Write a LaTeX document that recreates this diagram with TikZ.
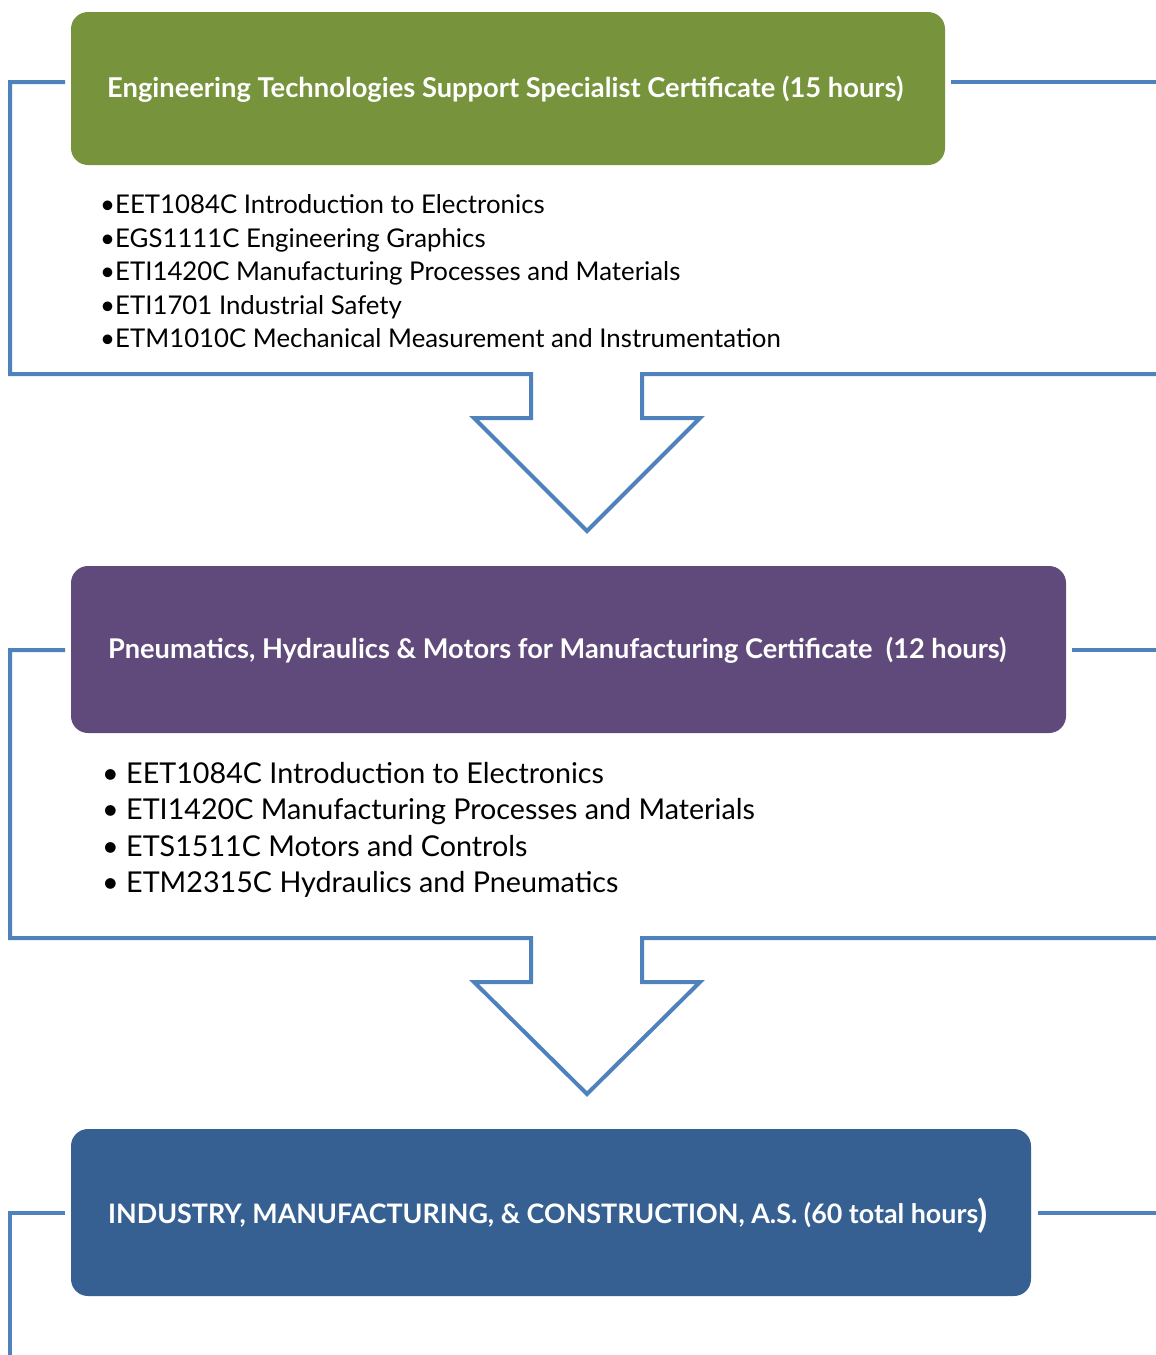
\documentclass[tikz,border=0pt]{standalone}
\usepackage{fontspec}
\setmainfont{Lato}
\definecolor{grn}{HTML}{77933C}
\definecolor{pur}{HTML}{604A7B}
\definecolor{blu}{HTML}{376092}
\definecolor{lnc}{HTML}{4F81BD}
\newcommand\fitw[2]{\resizebox{#1}{!}{#2}}
\begin{document}
\begin{tikzpicture}[x=1pt,y=-1pt,
  box/.style={rounded corners=17pt, draw=none, anchor=north west, inner sep=0, outer sep=0},
  ttl/.style={anchor=base west, text=white, font=\bfseries, inner sep=0},
  itemA/.style={anchor=base west, inner sep=0, font=\fontsize{25.8}{30}\selectfont},
  itemB/.style={anchor=base west, inner sep=0, font=\fontsize{28.7}{33}\selectfont},
  brk/.style={draw=lnc, line width=4pt, line join=miter}]
\useasboundingbox (0,0) rectangle (1156,1355);

% boxes
\node[box, fill=grn, minimum width=874pt, minimum height=153pt] (g1) at (71,12) {};
\node[box, fill=pur, minimum width=995pt, minimum height=167pt] (p2) at (71,566) {};
\node[box, fill=blu, minimum width=960pt, minimum height=167pt] (b3) at (71,1129) {};

% titles
\node[ttl] (t1) at (107,97) {\fitw{796pt}{Engineering Technologies Support Specialist Certificate (15 hours)}};
\node[ttl] (t2) at (108,658) {\fitw{898pt}{Pneumatics, Hydraulics \& Motors for Manufacturing Certificate\ \ (12 hours)}};
\node[ttl] (t3) at (108,1223) {\fitw{880pt}{INDUSTRY, MANUFACTURING, \& CONSTRUCTION, A.S. (60 total hours{\fontsize{14}{14}\selectfont\raisebox{-0.12em}{)}}}};

% list 1
\node[itemA] (a1) at (100,213) {•EET1084C Introduction to Electronics};
\node[itemA] (a2) at (100,247) {•EGS1111C Engineering Graphics};
\node[itemA] (a3) at (100,280) {•ETI1420C Manufacturing Processes and Materials};
\node[itemA] (a4) at (100,314) {•ETI1701 Industrial Safety};
\node[itemA] (a5) at (100,347) {•ETM1010C Mechanical Measurement and Instrumentation};

% list 2
\node[itemB] (b1) at (102,783) {•\ EET1084C Introduction to Electronics};
\node[itemB] (b2) at (102,819.5) {•\ ETI1420C Manufacturing Processes and Materials};
\node[itemB] (b4) at (102,856) {•\ ETS1511C Motors and Controls};
\node[itemB] (b5) at (102,892.5) {•\ ETM2315C Hydraulics and Pneumatics};

% bracket coordinates
\coordinate (L1) at (65,82);   \coordinate (R1) at (951,82);
\coordinate (L2) at (65,650);  \coordinate (R2) at (1072,650);
\coordinate (L3) at (65,1213); \coordinate (R3) at (1038,1213);
\coordinate (E1) at (1156,82); \coordinate (E2) at (1156,650); \coordinate (E3) at (1156,1213);
\coordinate (A1) at (587,531); \coordinate (A2) at (587,1094);
\coordinate (Z3) at (10,1357);

% bracket 1 with arrow
\draw[brk] (L1) -- (10,82) -- (10,374) -- (531,374) -- (531,418) -- (474,418) -- (A1)
  -- (700,418) -- (642,418) -- (642,374) -- (1158,374);
\draw[brk] (R1) -- (E1);
% bracket 2 with arrow
\draw[brk] (L2) -- (10,650) -- (10,938) -- (531,938) -- (531,982) -- (474,982) -- (A2)
  -- (700,982) -- (642,982) -- (642,938) -- (1158,938);
\draw[brk] (R2) -- (E2);
% bracket 3
\draw[brk] (L3) -- (10,1213) -- (Z3);
\draw[brk] (R3) -- (E3);
\end{tikzpicture}
\end{document}
